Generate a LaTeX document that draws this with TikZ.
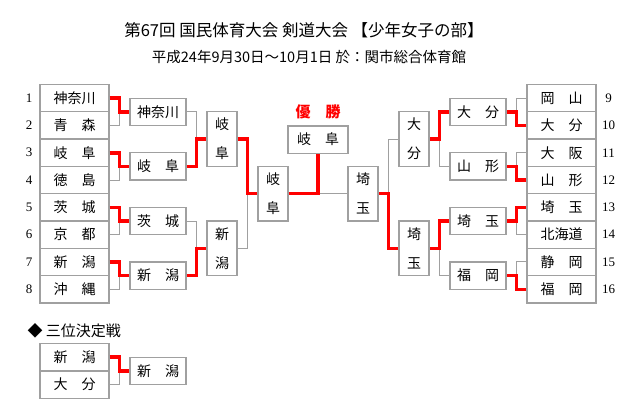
\documentclass[tikz,border=0pt]{standalone}
\usepackage{fontspec}
\newfontfamily\jp{Noto Sans CJK JP}
\newfontfamily\numfont{Liberation Serif}
\definecolor{bx}{HTML}{A0A0A0}
\definecolor{rd}{HTML}{FF0000}
\begin{document}
\begin{tikzpicture}[x=1pt,y=-1pt,
  team/.style={draw=bx,line width=1.3pt,minimum width=69pt,minimum height=27.3pt,inner sep=0pt,font=\jp\fontsize{14}{14}\selectfont},
  win/.style={draw=bx,line width=1.3pt,minimum width=56pt,minimum height=27.3pt,inner sep=0pt,font=\jp\fontsize{14}{14}\selectfont},
  fin/.style={draw=bx,line width=1.3pt,minimum width=60pt,minimum height=27.3pt,inner sep=0pt,font=\jp\fontsize{14}{14}\selectfont},
  vbox/.style={draw=bx,line width=1.3pt,minimum width=30pt,minimum height=54.6pt,inner sep=0pt,align=center,font=\jp\fontsize{14}{29}\selectfont},
  num/.style={font=\numfont\fontsize{13}{13}\selectfont},
  gl/.style={draw=bx,line width=1pt},
  rl/.style={draw=rd,line width=3.5pt,line join=miter},
]
\useasboundingbox (0,0) rectangle (640,420);
% titles
\node (title) at (304,30) {\jp\fontsize{16.5}{16.5}\selectfont 第67回 国民体育大会 剣道大会 【少年女子の部】};
\node (sub) at (309,57) {\jp\fontsize{14.5}{14.5}\selectfont 平成24年9月30日～10月1日 於：関市総合体育館};
\node[text=rd,font=\jp\bfseries\fontsize{15}{15}\selectfont] (champ) at (318,112) {優　勝};
% left teams
\node[team] (L1) at (74.5,98.15) {神奈川};
\node[team] (L2) at (74.5,125.45) {青　森};
\node[team] (L3) at (74.5,152.75) {岐　阜};
\node[team] (L4) at (74.5,180.05) {徳　島};
\node[team] (L5) at (74.5,207.35) {茨　城};
\node[team] (L6) at (74.5,234.65) {京　都};
\node[team] (L7) at (74.5,261.95) {新　潟};
\node[team] (L8) at (74.5,289.25) {沖　縄};
% right teams
\node[team] (R9) at (561.5,98.15) {岡　山};
\node[team] (R10) at (561.5,125.45) {大　分};
\node[team] (R11) at (561.5,152.75) {大　阪};
\node[team] (R12) at (561.5,180.05) {山　形};
\node[team] (R13) at (561.5,207.35) {埼　玉};
\node[team] (R14) at (561.5,234.65) {北海道};
\node[team] (R15) at (561.5,261.95) {静　岡};
\node[team] (R16) at (561.5,289.25) {福　岡};
% numbers
\node[num] (n1) at (29,98.15) {1};
\node[num] (n2) at (29,125.45) {2};
\node[num] (n3) at (29,152.75) {3};
\node[num] (n4) at (29,180.05) {4};
\node[num] (n5) at (29,207.35) {5};
\node[num] (n6) at (29,234.65) {6};
\node[num] (n7) at (29,261.95) {7};
\node[num] (n8) at (29,289.25) {8};
\node[num] (n9) at (608.5,98.15) {9};
\node[num] (n10) at (608.5,125.45) {10};
\node[num] (n11) at (608.5,152.75) {11};
\node[num] (n12) at (608.5,180.05) {12};
\node[num] (n13) at (608.5,207.35) {13};
\node[num] (n14) at (608.5,234.65) {14};
\node[num] (n15) at (608.5,261.95) {15};
\node[num] (n16) at (608.5,289.25) {16};
% round 1 winners
\node[win] (W1) at (158,111.8) {神奈川};
\node[win] (W2) at (158,166.4) {岐　阜};
\node[win] (W3) at (158,221.0) {茨　城};
\node[win] (W4) at (158,275.6) {新　潟};
\node[win] (V1) at (478,111.8) {大　分};
\node[win] (V2) at (478,166.4) {山　形};
\node[win] (V3) at (478,221.0) {埼　玉};
\node[win] (V4) at (478,275.6) {福　岡};
% round 2
\node[vbox] (Q1) at (222,139.1) {岐\\阜};
\node[vbox] (Q2) at (222,248.3) {新\\潟};
\node[vbox] (P1) at (414,139.1) {大\\分};
\node[vbox] (P2) at (414,248.3) {埼\\玉};
% semifinals
\node[vbox] (S1) at (273,193.7) {岐\\阜};
\node[vbox] (S2) at (363,193.7) {埼\\玉};
% final
\node[fin] (F) at (318,139.5) {岐　阜};
% gray connectors (losers)
\draw[gl] (L2.east) -- ++(10,0) |- (W1.west);
\draw[gl] (L4.east) -- ++(10,0) |- (W2.west);
\draw[gl] (L6.east) -- ++(10,0) |- (W3.west);
\draw[gl] (L8.east) -- ++(10,0) |- (W4.west);
\draw[gl] (R9.west) -- ++(-10,0) |- (V1.east);
\draw[gl] (R11.west) -- ++(-10,0) |- (V2.east);
\draw[gl] (R14.west) -- ++(-10,0) |- (V3.east);
\draw[gl] (R15.west) -- ++(-10,0) |- (V4.east);
\draw[gl] (W1.east) -- ++(10,0) |- (Q1.west);
\draw[gl] (W3.east) -- ++(10,0) |- (Q2.west);
\draw[gl] (V2.west) -- ++(-10,0) |- (P1.east);
\draw[gl] (V4.west) -- ++(-10,0) |- (P2.east);
\draw[gl] (Q2.east) -- ++(10,0) |- (S1.west);
\draw[gl] (P1.west) -- ++(-10,0) |- (S2.east);
\draw[gl] (S2.west) -| (F.south);
% red connectors (winners)
\draw[rl] (L1.east) -- ++(10,0) |- (W1.west);
\draw[rl] (L3.east) -- ++(10,0) |- (W2.west);
\draw[rl] (L5.east) -- ++(10,0) |- (W3.west);
\draw[rl] (L7.east) -- ++(10,0) |- (W4.west);
\draw[rl] (R10.west) -- ++(-10,0) |- (V1.east);
\draw[rl] (R12.west) -- ++(-10,0) |- (V2.east);
\draw[rl] (R13.west) -- ++(-10,0) |- (V3.east);
\draw[rl] (R16.west) -- ++(-10,0) |- (V4.east);
\draw[rl] (W2.east) -- ++(10,0) |- (Q1.west);
\draw[rl] (W4.east) -- ++(10,0) |- (Q2.west);
\draw[rl] (V1.west) -- ++(-10,0) |- (P1.east);
\draw[rl] (V3.west) -- ++(-10,0) |- (P2.east);
\draw[rl] (Q1.east) -- ++(10,0) |- (S1.west);
\draw[rl] (P2.west) -- ++(-10,0) |- (S2.east);
\draw[rl] (S1.east) -| (F.south);
% third place
\node[anchor=west,font=\jp\fontsize{15}{15}\selectfont] (third) at (24,331) {◆ 三位決定戦};
\node[team] (T1) at (74.5,357.15) {新　潟};
\node[team] (T2) at (74.5,384.65) {大　分};
\node[win] (TW) at (158,371) {新　潟};
\draw[gl] (T2.east) -- ++(10,0) |- (TW.west);
\draw[rl] (T1.east) -- ++(10,0) |- (TW.west);
\end{tikzpicture}
\end{document}
